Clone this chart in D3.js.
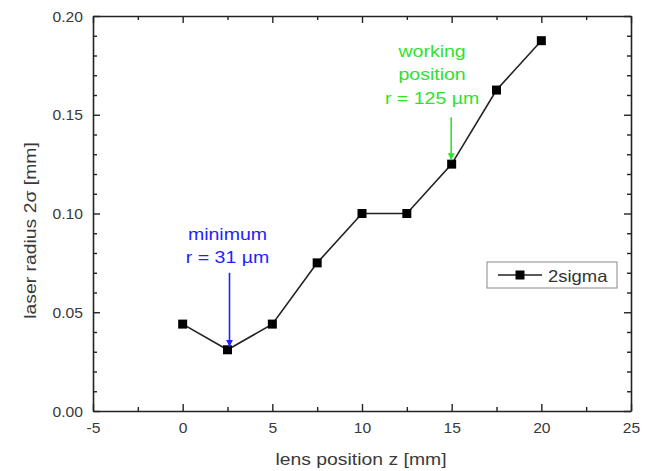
<!DOCTYPE html>
<html>
<head>
<meta charset="utf-8">
<script src="https://cdn.jsdelivr.net/npm/d3@7"></script>
<style>
  html, body { margin: 0; padding: 0; background: #fff; }
  svg { display: block; font-family: "Liberation Sans", Arial, sans-serif; }
</style>
</head>
<body>
<svg id="chart" width="650" height="471"></svg>
<script>
// ---- data ----
const lensPosition = [0, 2.5, 5, 7.5, 10, 12.5, 15, 17.5, 20];
const radius2sigma = [0.044, 0.031, 0.044, 0.075, 0.100, 0.100, 0.125, 0.1625, 0.1875];
const seriesName = "2sigma";
const xTickValues = [-5, 0, 5, 10, 15, 20, 25];
const xTickLabels = ["-5", "0", "5", "10", "15", "20", "25"];
const xMinorTicks = [-2.5, 2.5, 7.5, 12.5, 17.5, 22.5];
const yTickValues = [0, 0.05, 0.10, 0.15, 0.20];
const yTickLabels = ["0.00", "0.05", "0.10", "0.15", "0.20"];
const yMinorTicks = [0.01, 0.02, 0.03, 0.04, 0.06, 0.07, 0.08, 0.09, 0.11, 0.12, 0.13, 0.14, 0.16, 0.17, 0.18, 0.19];
const xTitle = "lens position z [mm]";
const yTitle = "laser radius 2\u03C3 [mm]";
const annotationPoints = [2.5, 15];
const annotationLines = [["minimum", "r = 31 \u00B5m"], ["working", "position", "r = 125 \u00B5m"]];

// ---- layout ----
const L = 93, R = 631, T = 16, B = 411;
const svg = d3.select("#chart");
const x = d3.scaleLinear().domain([-5, 25]).range([L, R]);
const y = d3.scaleLinear().domain([0, 0.2]).range([B, T]);
const axisColor = "#222";
const textColor = "#3a3a3a";

function addText(g, str, tx, ty, opts) {
  const o = Object.assign({size: 17, sx: 1.14, rot: 0, anchor: "middle", color: textColor}, opts || {});
  return g.append("text")
    .attr("transform", `translate(${tx},${ty}) rotate(${o.rot}) scale(${o.sx},1)`)
    .attr("text-anchor", o.anchor)
    .attr("font-size", o.size)
    .attr("fill", o.color)
    .text(str);
}

function styleAxis(g) {
  g.selectAll("path.domain").attr("stroke", axisColor).attr("stroke-width", 1.6);
  g.selectAll(".tick line").attr("stroke", axisColor).attr("stroke-width", 1.4);
}

// minor axes
const minorDefs = [
  [d3.axisBottom(x).tickValues(xMinorTicks), `translate(0,${B})`],
  [d3.axisTop(x).tickValues(xMinorTicks), `translate(0,${T})`],
  [d3.axisLeft(y).tickValues(yMinorTicks), `translate(${L},0)`],
  [d3.axisRight(y).tickValues(yMinorTicks), `translate(${R},0)`]
];
minorDefs.forEach(([ax, tr]) => {
  const g = svg.append("g").attr("transform", tr)
    .call(ax.tickSize(-4).tickSizeOuter(0).tickFormat(""));
  styleAxis(g);
  g.selectAll("path.domain").remove();
});

// major axes
const gxB = svg.append("g").attr("transform", `translate(0,${B})`)
  .call(d3.axisBottom(x).tickValues(xTickValues).tickSize(-7).tickSizeOuter(0).tickPadding(12)
    .tickFormat((d, i) => xTickLabels[i]));
const gxT = svg.append("g").attr("transform", `translate(0,${T})`)
  .call(d3.axisTop(x).tickValues(xTickValues).tickSize(-7).tickSizeOuter(0).tickFormat(""));
const gyL = svg.append("g").attr("transform", `translate(${L},0)`)
  .call(d3.axisLeft(y).tickValues(yTickValues).tickSize(-7).tickSizeOuter(0).tickPadding(10)
    .tickFormat((d, i) => yTickLabels[i]));
const gyR = svg.append("g").attr("transform", `translate(${R},0)`)
  .call(d3.axisRight(y).tickValues(yTickValues).tickSize(-7).tickSizeOuter(0).tickFormat(""));
[gxB, gxT, gyL, gyR].forEach(styleAxis);
[gxB, gyL].forEach(g => g.selectAll(".tick text")
  .attr("font-size", 14.5).attr("fill", textColor)
  .attr("font-family", '"Liberation Sans", Arial, sans-serif'));
gxB.selectAll(".tick text").attr("transform", "scale(1.08,1)");
gyL.selectAll(".tick text").attr("transform", "scale(1.08,1)").attr("x", -10 / 1.08).attr("dy", "0.36em");

// titles
addText(svg, xTitle, (L + R) / 2 - 1, 465, {size: 17});
addText(svg, yTitle, 35.5, (T + B) / 2 + 17, {size: 17, rot: -90});

// data line & markers
const pts = lensPosition.map((d, i) => [d, radius2sigma[i]]);
svg.append("path")
  .datum(pts)
  .attr("fill", "none")
  .attr("stroke", "#222")
  .attr("stroke-width", 1.6)
  .attr("d", d3.line().x(d => x(d[0])).y(d => y(d[1])));
svg.selectAll("rect.pt").data(pts).enter().append("rect")
  .attr("class", "pt")
  .attr("x", d => x(d[0]) - 4.5).attr("y", d => y(d[1]) - 4.5)
  .attr("width", 9).attr("height", 9).attr("fill", "#000");

// arrow markers
const defs = svg.append("defs");
const annColors = ["#1f1fff", "#2ee22e"];
annColors.forEach((c, i) => {
  defs.append("marker").attr("id", "ah" + i)
    .attr("viewBox", "0 0 10 10").attr("refX", 10).attr("refY", 5)
    .attr("markerWidth", 7).attr("markerHeight", 7).attr("markerUnits", "userSpaceOnUse")
    .attr("orient", "auto")
    .append("path").attr("d", "M0,0 L10,5 L0,10 Z").attr("fill", c);
});

// annotations
const annLayout = [
  {tdx: 0, tdy: -110, lh: 23.5, adx: 2, aTop: -77, aTip: -3},
  {tdx: -19.6, tdy: -107.5, lh: 23.8, adx: -0.5, aTop: -47, aTip: -4}
];
annotationPoints.forEach((xv, i) => {
  const yv = radius2sigma[lensPosition.indexOf(xv)];
  const px = x(xv), py = y(yv);
  const lay = annLayout[i];
  const g = svg.append("g");
  annotationLines[i].forEach((s, j) => {
    addText(g, s, px + lay.tdx, py + lay.tdy + j * lay.lh, {size: 17, sx: 1.15, color: annColors[i]});
  });
  g.append("line")
    .attr("x1", px + lay.adx).attr("x2", px + lay.adx)
    .attr("y1", py + lay.aTop).attr("y2", py + lay.aTip)
    .attr("stroke", annColors[i]).attr("stroke-width", 1.6)
    .attr("marker-end", `url(#ah${i})`);
});

// legend
const lg = svg.append("g").attr("transform", "translate(487,262)");
lg.append("rect").attr("width", 130).attr("height", 26)
  .attr("fill", "#fff").attr("stroke", "#8a8a8a").attr("stroke-width", 1);
lg.append("line").attr("x1", 11).attr("x2", 55).attr("y1", 13).attr("y2", 13)
  .attr("stroke", "#222").attr("stroke-width", 1.6);
lg.append("rect").attr("x", 33 - 4.5).attr("y", 13 - 4.5).attr("width", 9).attr("height", 9).attr("fill", "#000");
addText(lg, seriesName, 61, 19.5, {size: 16.5, sx: 1.12, anchor: "start", color: "#333"});
</script>
</body>
</html>
